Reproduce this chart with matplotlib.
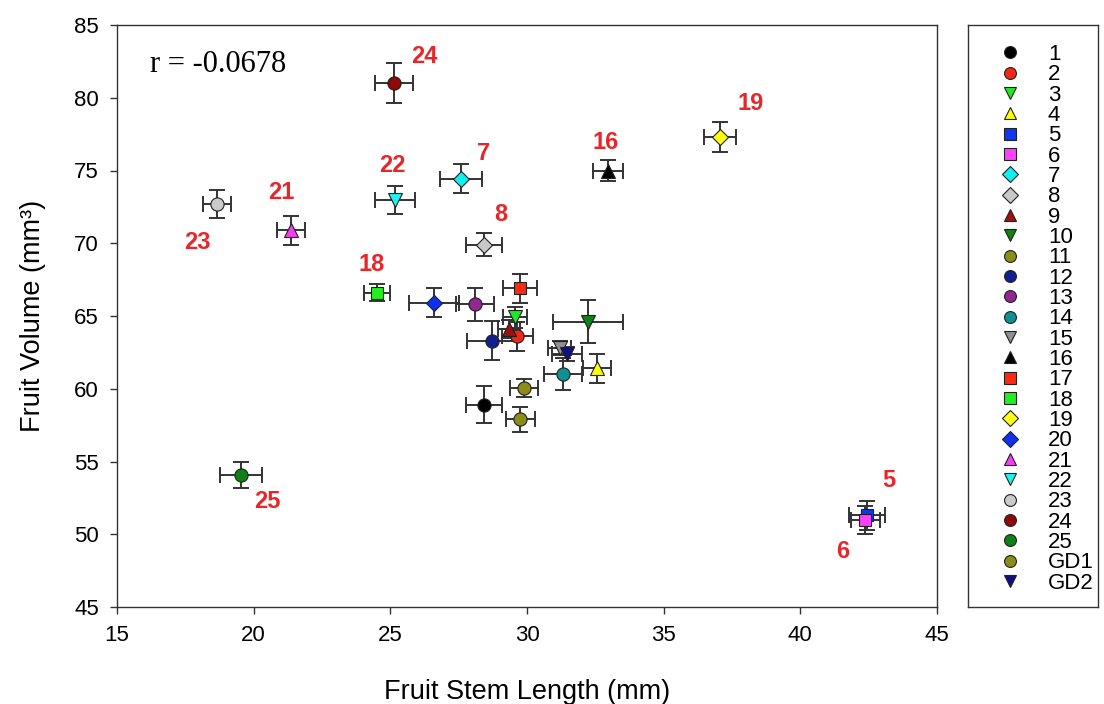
import numpy as np
import matplotlib.pyplot as plt

# genotype labels and measurements (mean +/- error)
genotypes = ['1', '2', '3', '4', '5', '6', '7', '8', '9', '10', '11', '12', '13',
             '14', '15', '16', '17', '18', '19', '20', '21', '22', '23', '24', '25',
             'GD1', 'GD2']
stem_len = [28.43, 29.64, 29.56, 32.56, 42.44, 42.37, 27.59, 28.43, 29.34, 32.23,
            29.90, 28.72, 28.10, 31.32, 31.20, 32.97, 29.75, 24.51, 37.06, 26.60,
            21.37, 25.17, 18.66, 25.13, 19.54, 29.75, 31.46]
stem_err = [0.66, 0.57, 0.45, 0.50, 0.66, 0.53, 0.77, 0.66, 0.40, 1.27,
            0.52, 0.93, 0.71, 0.69, 0.42, 0.55, 0.62, 0.46, 0.60, 0.90,
            0.50, 0.73, 0.51, 0.70, 0.77, 0.53, 0.55]
fruit_vol = [58.9, 63.6, 64.9, 61.4, 51.3, 50.98, 74.45, 69.9, 64.1, 64.6,
             60.05, 63.3, 65.8, 61.0, 62.8, 75.0, 66.9, 66.6, 77.3, 65.9,
             70.9, 72.97, 72.7, 81.0, 54.07, 57.9, 62.4]
vol_err = [1.27, 1.0, 0.7, 1.0, 1.0, 0.96, 1.03, 0.8, 0.6, 1.48,
           0.65, 1.34, 1.13, 1.1, 0.5, 0.72, 1.0, 0.6, 1.0, 1.0,
           1.0, 0.96, 0.96, 1.37, 0.9, 0.86, 0.5]
r_text = 'r = -0.0678'

# marker style per genotype
markers = ['o', 'o', 'v', '^', 's', 's', 'D', 'D', '^', 'v', 'o', 'o', 'o',
           'o', 'v', '^', 's', 's', 'D', 'D', '^', 'v', 'o', 'o', 'o', 'o', 'v']
colors = ['#000000', '#f02818', '#20e820', '#ffff00', '#1038f0', '#ff40ff', '#10f0f0',
          '#c8c8c8', '#a01010', '#108018', '#8c8c18', '#102090', '#902890', '#109090',
          '#909090', '#000000', '#ff2a10', '#20f020', '#ffff10', '#1030f0', '#f040f0',
          '#20f0f0', '#cacaca', '#900808', '#108018', '#8c8c18', '#101080']
msize = {'o': 9.5, 'v': 10, '^': 10, 's': 9, 'D': 8.5}

# red callouts: offset in points from the point
callouts = {'24': (22, 19), '23': (-14, -28), '21': (-7, 27), '22': (-2, 25),
            '7': (16, 18), '8': (12, 22), '16': (-2, 20), '19': (22, 24),
            '18': (-4, 20), '25': (19, -19), '5': (16, 25), '6': (-16, -23)}

plt.rcParams['font.family'] = ['Liberation Sans', 'DejaVu Sans']

fig = plt.figure(figsize=(11.04, 7.04), dpi=100)
ax = fig.add_axes([117 / 1104, 1 - 607 / 704, 820 / 1104, 582 / 704])

for i, g in enumerate(genotypes):
    ax.errorbar(stem_len[i], fruit_vol[i], xerr=stem_err[i], yerr=vol_err[i],
                fmt='none', ecolor='#333333', elinewidth=1.4, capsize=5.5,
                capthick=1.4, zorder=2)
    ax.plot(stem_len[i], fruit_vol[i], linestyle='none', marker=markers[i],
            markersize=msize[markers[i]], markerfacecolor=colors[i],
            markeredgecolor='#202020', markeredgewidth=0.8, label=g, zorder=3)
    if g in callouts:
        ax.annotate(g, (stem_len[i], fruit_vol[i]), xytext=callouts[g],
                    textcoords='offset points', ha='center', va='center',
                    color='#e8262a', fontsize=17, fontweight='bold')

ax.text(150 / 1104, 1 - 64 / 704, r_text, transform=fig.transFigure,
        family='Liberation Serif', fontsize=22, va='center', ha='left')

ax.set_xlim(15, 45)
ax.set_ylim(45, 85)
ax.set_xticks(np.arange(15, 46, 5))
ax.set_yticks(np.arange(45, 86, 5))
ax.tick_params(direction='out', length=5, width=1, labelsize=16, pad=8, color='#333333')
for s in ax.spines.values():
    s.set_color('#333333')
    s.set_linewidth(1)
ax.set_xlabel('Fruit Stem Length (mm)', fontsize=19.5, labelpad=24)
ax.set_ylabel('Fruit Volume (mm³)', fontsize=19.5, labelpad=20)

# legend in its own box on the right
lax = fig.add_axes([968 / 1104, 1 - 607 / 704, 130 / 1104, 582 / 704])
lax.set_xticks([])
lax.set_yticks([])
for s in lax.spines.values():
    s.set_color('#333333')
    s.set_linewidth(1)
handles, labels = ax.get_legend_handles_labels()
lax.legend(handles, labels, loc='upper left', bbox_to_anchor=(999 / 1104, 1 - 44 / 704),
           bbox_transform=fig.transFigure, frameon=False, fontsize=16,
           handlelength=1.0, handletextpad=1.2, borderpad=0, borderaxespad=0,
           labelspacing=-0.03, markerscale=0.9)

fig.savefig('out.png', dpi=100)
